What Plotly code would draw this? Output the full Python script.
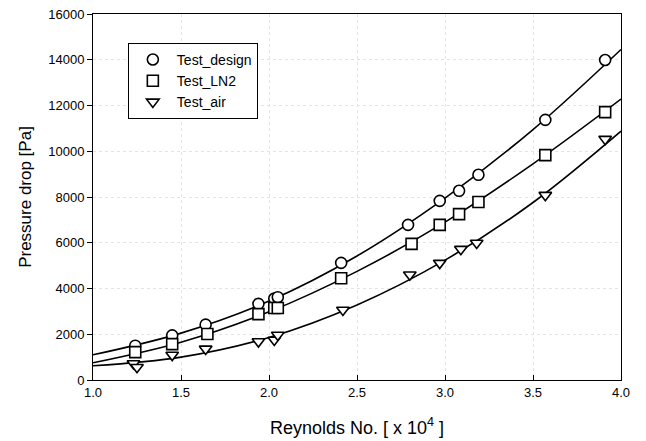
import plotly.graph_objects as go

# Measured data (Reynolds No. x10^4, pressure drop Pa)
design_x = [1.24, 1.45, 1.64, 1.94, 2.03, 2.05, 2.41, 2.79, 2.97, 3.08, 3.19, 3.57, 3.91]
design_y = [1500, 1950, 2420, 3330, 3560, 3620, 5120, 6780, 7830, 8270, 8970, 11370, 13990]

ln2_x = [1.24, 1.45, 1.65, 1.94, 2.03, 2.05, 2.41, 2.81, 2.97, 3.08, 3.19, 3.57, 3.91]
ln2_y = [1220, 1570, 2010, 2880, 3150, 3150, 4450, 5950, 6780, 7250, 7780, 9830, 11710]

air_x = [1.23, 1.25, 1.45, 1.64, 1.94, 2.03, 2.05, 2.42, 2.80, 2.97, 3.09, 3.18, 3.57, 3.91]
air_y = [720, 560, 1090, 1360, 1680, 1750, 1970, 3060, 4600, 5110, 5720, 5990, 8080, 10530]

# Fitted curves
fit_x = [1.0, 1.5, 2.0, 2.5, 3.0, 3.5, 4.0]
fit_design = [1100, 2050, 3450, 5420, 7950, 10950, 14450]
fit_ln2 = [750, 1650, 2980, 4750, 6900, 9450, 12280]
fit_air = [620, 1000, 1860, 3280, 5240, 7760, 10880]

x_ticks = [1.0, 1.5, 2.0, 2.5, 3.0, 3.5, 4.0]
y_ticks = [0, 2000, 4000, 6000, 8000, 10000, 12000, 14000, 16000]

fig = go.Figure()

for fy in (fit_design, fit_ln2, fit_air):
    fig.add_trace(go.Scatter(x=fit_x, y=fy, mode="lines", showlegend=False,
                             line=dict(color="black", width=1.6, shape="spline"),
                             hoverinfo="skip"))

marker_style = dict(color="white", size=11, line=dict(color="black", width=1.6))
fig.add_trace(go.Scatter(x=design_x, y=design_y, mode="markers", name="Test_design",
                         marker=dict(symbol="circle", **marker_style)))
fig.add_trace(go.Scatter(x=ln2_x, y=ln2_y, mode="markers", name="Test_LN2",
                         marker=dict(symbol="square", **marker_style)))
fig.add_trace(go.Scatter(x=air_x, y=air_y, mode="markers", name="Test_air",
                         marker=dict(symbol="triangle-down", **marker_style)))

fig.update_layout(
    width=646, height=441,
    margin=dict(l=93, r=25, t=14, b=61),
    paper_bgcolor="white", plot_bgcolor="white",
    font=dict(family="Liberation Sans, Arial, sans-serif", color="black", size=13),
    legend=dict(x=0.066, y=0.921, xanchor="left", yanchor="top",
                bordercolor="black", borderwidth=1, bgcolor="white",
                font=dict(size=14), itemwidth=38, tracegroupgap=0),
    xaxis=dict(range=[1.0, 4.0], tickvals=x_ticks,
               ticktext=[f"{v:.1f}" for v in x_ticks],
               showline=True, linecolor="black", linewidth=1, mirror=True,
               ticks="inside", ticklen=5, tickcolor="black",
               showgrid=True, gridcolor="#e4e4e4", griddash="dot", gridwidth=1,
               zeroline=False, tickfont=dict(size=13), automargin=False,
               title=dict(text="Reynolds No. [ x 10<sup>4</sup> ]", font=dict(size=18), standoff=22)),
    yaxis=dict(range=[0, 16000], tickvals=y_ticks,
               ticktext=[str(v) for v in y_ticks],
               showline=True, linecolor="black", linewidth=1, mirror=True,
               ticks="outside", ticklen=5, tickcolor="black",
               showgrid=True, gridcolor="#e4e4e4", griddash="dot", gridwidth=1,
               zeroline=False, tickfont=dict(size=13), automargin=False,
               title=dict(text="Pressure drop [Pa]", font=dict(size=17), standoff=12)),
)

fig.write_html("out.html")
